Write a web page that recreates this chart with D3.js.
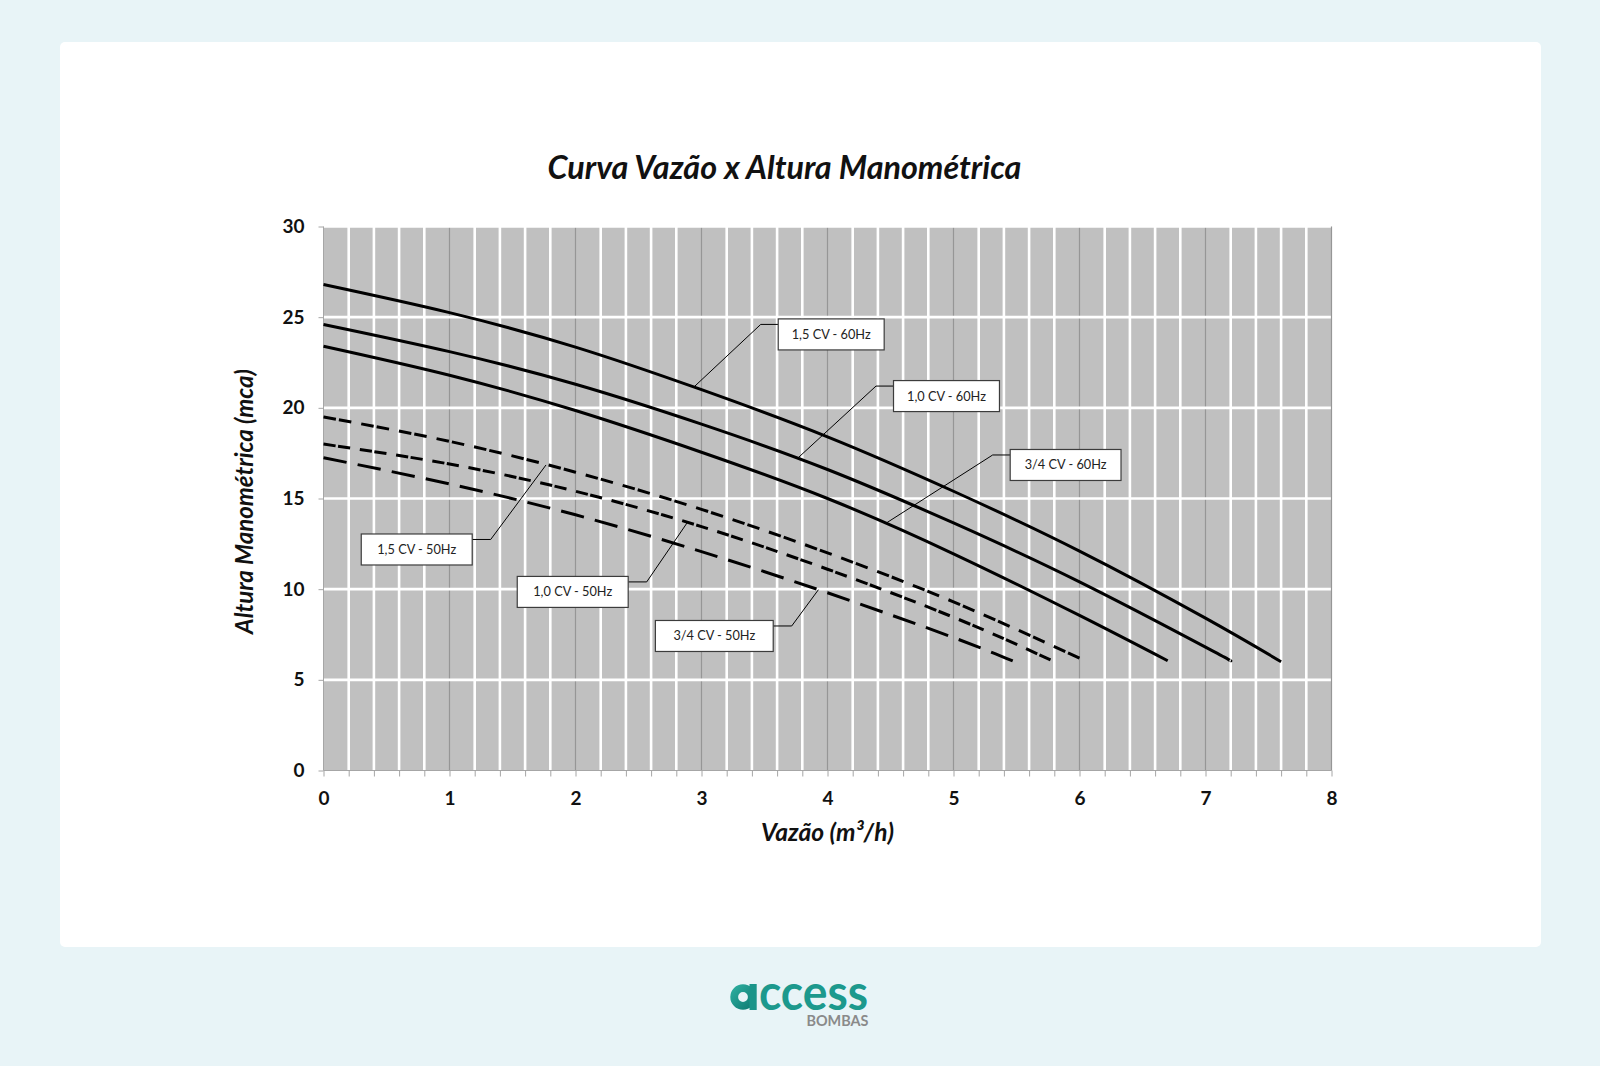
<!DOCTYPE html>
<html><head><meta charset="utf-8">
<script src="https://cdn.jsdelivr.net/npm/d3@7"></script>
<style>html,body{margin:0;padding:0;background:#e8f4f7;} svg{display:block}</style>
</head><body>
<svg id="c" width="1600" height="1066"></svg>
<script>
// ---------- DATA ----------
const titleText = "Curva Vazão x Altura Manométrica";
const xTitle = "Vazão (m³/h)";
const yTitle = "Altura Manométrica (mca)";
const xTicks = [0,1,2,3,4,5,6,7,8];
const yTicks = [0,5,10,15,20,25,30];

const name_15_60 = "1,5 CV - 60Hz";
const flow_15_60 = [0,1,2,3,4,5,6,7,7.6];
const head_15_60 = [26.8,25.25,23.35,21.0,18.4,15.4,12.1,8.4,6.0];

const name_10_60 = "1,0 CV - 60Hz";
const flow_10_60 = [0,1,2,3,4,5,6,7,7.2];
const head_10_60 = [24.6,23.1,21.3,19.1,16.6,13.65,10.4,6.8,6.05];

const name_34_60 = "3/4 CV - 60Hz";
const flow_34_60 = [0,1,2,3,4,5,6,6.7];
const head_34_60 = [23.4,21.8,19.85,17.55,15.0,11.95,8.55,6.05];

const name_15_50 = "1,5 CV - 50Hz";
const flow_15_50 = [0,1,2,3,4,5,6];
const head_15_50 = [19.5,18.15,16.45,14.4,12.0,9.3,6.2];

const name_10_50 = "1,0 CV - 50Hz";
const flow_10_50 = [0,1,2,3,4,5,5.77];
const head_10_50 = [18.0,16.9,15.4,13.45,11.1,8.45,6.1];

const name_34_50 = "3/4 CV - 50Hz";
const flow_34_50 = [0,1,2,3,4,5,5.47];
const head_34_50 = [17.25,15.8,14.1,12.07,9.8,7.33,6.04];

// ---------- LAYOUT / STYLE ----------
const series = [
  {name:name_15_60, xs:flow_15_60, ys:head_15_60, dash:null},
  {name:name_10_60, xs:flow_10_60, ys:head_10_60, dash:null},
  {name:name_34_60, xs:flow_34_60, ys:head_34_60, dash:null},
  {name:name_15_50, xs:flow_15_50, ys:head_15_50, dash:[12.5,3,12.5,10]},
  {name:name_10_50, xs:flow_10_50, ys:head_10_50, dash:[12.5,2.5,12.5,10]},
  {name:name_34_50, xs:flow_34_50, ys:head_34_50, dash:[24,11.5]}
];
const annotations = [
  {name:name_15_60, px:2.94, py:21.15, ex:3.47, ey:24.6, side:"right", pad:13.5},
  {name:name_10_60, px:3.76, py:17.2, ex:4.385, ey:21.2, side:"right", pad:13.5},
  {name:name_34_60, px:4.456, py:13.6, ex:5.311, ey:17.4, side:"right", pad:14.5},
  {name:name_15_50, px:1.766, py:16.85, ex:1.327, ey:12.74, side:"left", pad:16},
  {name:name_10_50, px:2.887, py:13.67, ex:2.565, ey:10.4, side:"left", pad:16},
  {name:name_34_50, px:3.928, py:9.97, ex:3.716, ey:7.97, side:"left", pad:18}
];

const svg = d3.select("#c");
const W = 1600, H = 1066;
const plot = {l:323.5, r:1331.5, t:226.5, b:770.5};
const font = "Lato, 'Open Sans', sans-serif";

svg.append("rect").attr("width",W).attr("height",H).attr("fill","#e8f4f7");
svg.append("rect").attr("x",60).attr("y",42).attr("width",1481).attr("height",905)
  .attr("rx",5).attr("fill","#ffffff");

const x = d3.scaleLinear().domain([0,8]).range([plot.l, plot.r]);
const y = d3.scaleLinear().domain([0,30]).range([plot.b, plot.t]);

svg.append("rect").attr("x",plot.l).attr("y",plot.t)
  .attr("width",plot.r-plot.l).attr("height",plot.b-plot.t).attr("fill","#c0c0c0");

const minorX = d3.range(0, 40.5, 1).map(i => i/5);
const g = svg.append("g");
g.selectAll("line.maj").data(xTicks.filter(v=>v>0&&v<8)).join("line")
  .attr("x1",d=>x(d)).attr("x2",d=>x(d)).attr("y1",plot.t).attr("y2",plot.b)
  .attr("stroke","#969696").attr("stroke-width",1.2);
g.selectAll("line.h").data(yTicks.filter(v=>v>0)).join("line")
  .attr("x1",plot.l).attr("x2",plot.r).attr("y1",d=>y(d)).attr("y2",d=>y(d))
  .attr("stroke","#ffffff").attr("stroke-width",2.6);
g.selectAll("line.mn").data(minorX.filter((v,i)=>i%5!==0)).join("line")
  .attr("x1",d=>x(d)).attr("x2",d=>x(d)).attr("y1",plot.t).attr("y2",plot.b)
  .attr("stroke","#ffffff").attr("stroke-width",2.6);

const axisCol = "#a6a6a6";
svg.append("line").attr("x1",plot.l).attr("x2",plot.l).attr("y1",plot.t).attr("y2",plot.b)
  .attr("stroke",axisCol).attr("stroke-width",1);
svg.append("line").attr("x1",plot.l).attr("x2",plot.r).attr("y1",plot.b).attr("y2",plot.b)
  .attr("stroke",axisCol).attr("stroke-width",1.2);
svg.append("line").attr("x1",plot.r).attr("x2",plot.r).attr("y1",plot.t).attr("y2",plot.b)
  .attr("stroke","#969696").attr("stroke-width",1.2);

const xAxis = d3.axisBottom(x).tickValues(minorX).tickSize(6).tickFormat("");
const xa = svg.append("g").attr("transform",`translate(0,${plot.b})`).call(xAxis);
xa.select(".domain").remove();
xa.selectAll(".tick line").attr("stroke",axisCol);

const xAxisLab = d3.axisBottom(x).tickValues(xTicks).tickSize(0).tickPadding(21).tickFormat(d3.format("d"));
const xl = svg.append("g").attr("transform",`translate(0,${plot.b})`).call(xAxisLab);
xl.select(".domain").remove();
xl.selectAll("text").attr("font-family",font).attr("font-weight","bold")
  .attr("font-size",19).attr("fill","#111");

const yAxis = d3.axisLeft(y).tickValues(yTicks).tickSize(5).tickPadding(14).tickFormat(d3.format("d"));
const ya = svg.append("g").attr("transform",`translate(${plot.l},0)`).call(yAxis);
ya.select(".domain").remove();
ya.selectAll(".tick line").attr("stroke",axisCol);
ya.selectAll("text").attr("font-family",font).attr("font-weight","bold")
  .attr("font-size",19).attr("fill","#111");

// series
const line = d3.line().x(d=>x(d[0])).y(d=>y(d[1])).curve(d3.curveNatural);
const paths = svg.append("g").selectAll("path").data(series).join("path")
  .attr("d", s => line(s.xs.map((v,i)=>[v, s.ys[i]])))
  .attr("fill","none").attr("stroke","#000").attr("stroke-width",3);
// scale dash pattern slightly so each curve starts and ends on a dash
paths.each(function(s){
  if(!s.dash) return;
  const L = this.getTotalLength();
  const P = d3.sum(s.dash);
  const endDash = s.dash.length === 4 ? s.dash[0]+s.dash[1]+s.dash[2] : s.dash[0];
  const n = Math.max(1, Math.round((L - endDash)/P));
  const k = L/(n*P + endDash);
  d3.select(this).attr("stroke-dasharray", s.dash.map(v=>v*k).join(","));
});

function fit(sel, target){
  const w = sel.node().getComputedTextLength();
  const fs = parseFloat(sel.attr("font-size"));
  sel.attr("font-size", fs*target/w);
}

const tmp = svg.append("text").attr("font-family",font).attr("font-size",13).text(name_15_60);
fit(tmp, 79);
const lblSize = parseFloat(tmp.attr("font-size"));
tmp.remove();

const ag = svg.append("g");
annotations.forEach(a => {
  const ex = x(a.ex), ey = y(a.ey);
  const t = ag.append("text").attr("font-family",font).attr("font-size",lblSize).attr("fill","#222")
    .text(a.name);
  const tw = t.node().getComputedTextLength();
  const bw = tw + 2*a.pad, bh = 31;
  const gap = a.side === "right" ? 17.5 : 18.5;
  const bx = a.side === "right" ? ex + gap : ex - gap - bw;
  const by = ey - 5.5;
  const edge = a.side === "right" ? bx : bx + bw;
  ag.insert("polyline", "text").attr("points", `${edge},${ey} ${ex},${ey} ${x(a.px)},${y(a.py)}`)
    .attr("fill","none").attr("stroke","#000").attr("stroke-width",1);
  ag.insert("rect","text").attr("x",bx).attr("y",by).attr("width",bw).attr("height",bh)
    .attr("fill","#fff").attr("stroke","#3c3c3c").attr("stroke-width",1.2);
  t.attr("x", bx + bw/2).attr("y", by + bh/2 + lblSize*0.35).attr("text-anchor","middle");
});

const tt = svg.append("text").attr("x",784.5).attr("y",178.5).attr("text-anchor","middle")
  .attr("font-family",font).attr("font-weight","bold").attr("font-style","italic")
  .attr("font-size",30).attr("fill","#111").text(titleText);
fit(tt, 474);

const xt = svg.append("text").attr("x",(plot.l+plot.r)/2).attr("y",841).attr("text-anchor","middle")
  .attr("font-family",font).attr("font-weight","bold").attr("font-style","italic")
  .attr("font-size",20).attr("fill","#111").text(xTitle);
fit(xt, 133);

const yt = svg.append("text").attr("transform",`translate(253,${(plot.t+plot.b)/2+3}) rotate(-90)`)
  .attr("text-anchor","middle")
  .attr("font-family",font).attr("font-weight","bold").attr("font-style","italic")
  .attr("font-size",20).attr("fill","#111").text(yTitle);
fit(yt, 265);

// logo
const defs = svg.append("defs");
const grad = defs.append("linearGradient").attr("id","tg").attr("x1","0").attr("x2","1").attr("y1","0").attr("y2","1");
grad.append("stop").attr("offset","0%").attr("stop-color","#2aa99b");
grad.append("stop").attr("offset","100%").attr("stop-color","#117f76");
const logo = svg.append("g");
logo.append("circle").attr("cx",743).attr("cy",997).attr("r",8.8)
  .attr("fill","none").attr("stroke","url(#tg)").attr("stroke-width",7.8);
logo.append("rect").attr("x",749.5).attr("y",984).attr("width",7.2).attr("height",26)
  .attr("fill","#1a958a");
logo.append("text").attr("x",759).attr("y",1010)
  .attr("font-family",font).attr("font-weight","bold").attr("font-size",49)
  .attr("fill","#1c998d").attr("textLength",109).attr("lengthAdjust","spacingAndGlyphs").text("ccess");
logo.append("text").attr("x",868.4).attr("y",1026).attr("text-anchor","end")
  .attr("font-family",font).attr("font-weight","bold").attr("font-size",16)
  .attr("fill","#8a8a8a").attr("textLength",62).attr("lengthAdjust","spacingAndGlyphs").text("BOMBAS");
</script>
</body></html>
